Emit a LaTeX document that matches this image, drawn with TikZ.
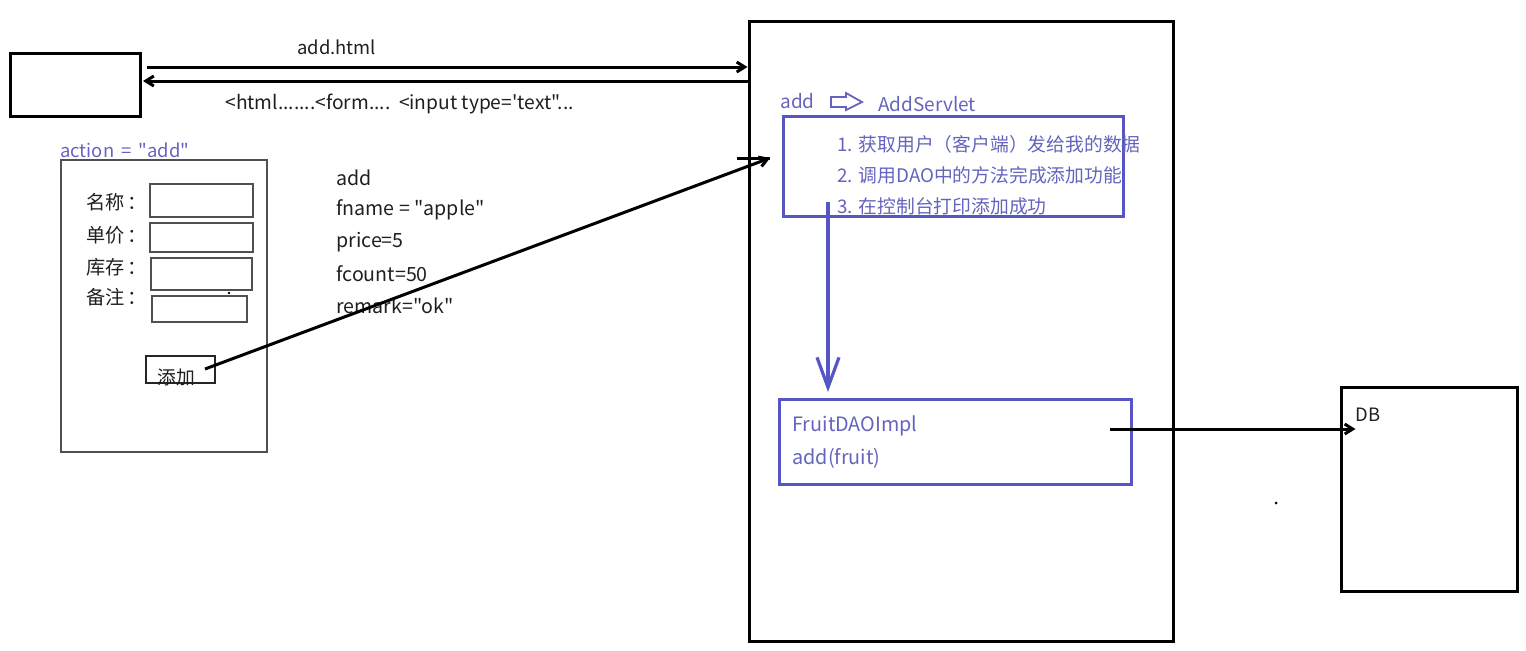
\documentclass[tikz,border=0pt]{standalone}
\usepackage{fontspec}
\newfontfamily\cjk{Noto Sans CJK SC}
\usetikzlibrary{arrows.meta,fit}
\definecolor{tblue}{RGB}{100,100,190}
\definecolor{bblue}{RGB}{85,85,195}
\definecolor{fgray}{RGB}{80,80,80}
\newcommand{\fs}[1]{\cjk\fontsize{#1}{12pt}\selectfont}
\tikzset{
  heavy/.style={draw=black,line width=1.5pt},
  thinbox/.style={draw=fgray,line width=0.7pt,inner sep=0pt},
  bluebox/.style={draw=bblue,line width=1.5pt,inner sep=0pt},
  txt/.style={anchor=west,inner sep=0pt,font=\fs{9.2pt},text=black!88},
  btxt/.style={txt,text=tblue},
  tip/.style={-{Straight Barb[length=4pt,width=5pt]}},
}
\begin{document}
\begin{tikzpicture}[x=0.5pt,y=-0.5pt]
\useasboundingbox (0,0) rectangle (1526,650);
% client box
\node[heavy,inner sep=0pt,fit={(10,53)(140,116)}] (client) {};
% server box
\node[heavy,inner sep=0pt,fit={(749,21)(1173,641)}] (server) {};
% DB box
\node[heavy,inner sep=0pt,fit={(1341,387)(1517,591)}] (db) {};
\node[txt] (dbl) at (1355,415) {DB};
% request/response arrows
\coordinate (r1) at (147,67);
\coordinate (r2) at (143,81);
\draw[line width=1.5pt,tip] (r1) -- (server.west |- r1);
\draw[line width=1.5pt,tip] (server.west |- r2) -- (r2);
\node[txt] (addhtml) at (297,47) {add.html};
\node[txt,font=\fs{9.6pt}] (html) at (225,104) {<html.......<form....\ \ <input type='text"...};
% form
\node[btxt] (action) at (60,150) {action\ \,=\ \,"add"};
\node[draw=fgray,line width=0.8pt,inner sep=0pt,fit={(61,160)(267,452)}] (form) {};
\node[txt,font=\fs{9.6pt}] (l1) at (86,202) {名称\,：};
\node[txt,font=\fs{9.6pt}] (l2) at (86,235) {单价\,：};
\node[txt,font=\fs{9.6pt}] (l3) at (86,267) {库存\,：};
\node[txt,font=\fs{9.6pt}] (l4) at (86,297) {备注\,：};
\node[thinbox,fit={(150,184)(253,217)}] (i1) {};
\node[thinbox,fit={(150,223)(253,252)}] (i2) {};
\node[thinbox,fit={(151,258)(252,290)}] (i3) {};
\node[thinbox,fit={(152,296)(247,322)}] (i4) {};
\fill[black] (229,293) circle (1.3);
\node[thinbox,draw=black!85,fit={(146,356)(215,383)}] (btn) {};
\node[txt,font=\fs{9.4pt}] (btnl) at (157,377) {添加};
% params
\node[txt,font=\fs{9.8pt}] (p1) at (336,178) {add};
\node[txt,font=\fs{9.8pt}] (p2) at (336,210) {fname = "apple"};
\node[txt,font=\fs{9.8pt}] (p3) at (336,242) {price=5};
\node[txt,font=\fs{9.8pt}] (p4) at (336,274) {fcount=50};
\node[txt,font=\fs{9.8pt}] (p5) at (336,306) {remark="ok"};
% submit arrow
\coordinate (s0) at (205,369);
\coordinate (s1) at (770,158);
\draw[line width=1.5pt,tip] (s0) -- (s1);
\draw[line width=1.5pt] (737,158) -- (s1);
% servlet
\node[btxt,font=\fs{9.5pt}] (addk) at (780,101) {add};
\draw[tblue,line width=0.9pt] (831,97) -- (846,97) -- (846,93) -- (862,102) -- (846,110) -- (846,107) -- (831,107) -- cycle;
\node[btxt,font=\fs{9.5pt}] (servlet) at (878,104) {AddServlet};
\node[bluebox,fit={(783,116)(1123,216)}] (steps) {};
\node[btxt,font=\fs{9.4pt}] (st1) at (837,144) {1. 获取用户（客户端）发给我的数据};
\node[btxt,font=\fs{9.4pt}] (st2) at (837,175) {2. 调用DAO中的方法完成添加功能};
\node[btxt,font=\fs{9.4pt}] (st3) at (837,206) {3. 在控制台打印添加成功};
% DAO
\node[bluebox,fit={(779,399)(1131,484)}] (dao) {};
\node[btxt,font=\fs{9.9pt}] (d1) at (792,426) {FruitDAOImpl};
\node[btxt,font=\fs{9.9pt}] (d2) at (792,458) {add(fruit)};
\coordinate (v0) at (828,202);
\draw[bblue,line width=1.6pt,-{Straight Barb[length=15pt,width=11pt]}] (v0) -- (v0 |- 0,392);
% DAO to DB
\coordinate (e0) at (1110,429);
\draw[line width=1.5pt,tip] (e0) -- (db.west |- e0) -- ++(16,0);
\fill[black] (1276,503) circle (1.5);
\end{tikzpicture}
\end{document}
